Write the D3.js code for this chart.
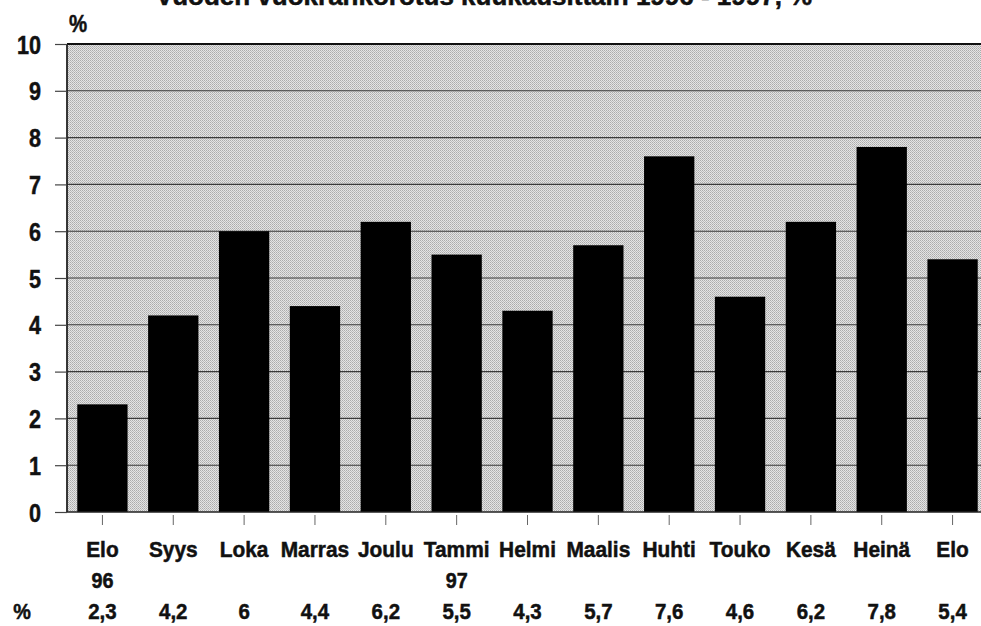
<!DOCTYPE html>
<html><head><meta charset="utf-8">
<script src="https://cdn.jsdelivr.net/npm/d3@7"></script>
<style>
html,body{margin:0;padding:0;background:#fff;}
svg{display:block;}
text{font-family:"Liberation Sans","Arial",sans-serif;font-weight:bold;fill:#111;stroke:#111;stroke-width:0.5px;}
</style></head>
<body><svg id="c" width="981" height="626"></svg>
<script>
const months = ["Elo","Syys","Loka","Marras","Joulu","Tammi","Helmi","Maalis","Huhti","Touko","Kesä","Heinä","Elo"];
const years  = ["96","","","","","97","","","","","","",""];
const values = [2.3,4.2,6,4.4,6.2,5.5,4.3,5.7,7.6,4.6,6.2,7.8,5.4];
const yTicks = [0,1,2,3,4,5,6,7,8,9,10];
const title = "Vuoden vuokrankorotus kuukausittain 1996 - 1997, %";

(function(){
const svg = d3.select("#c");
const pl = 67, pr = 988, pt = 44, pb = 512;

const x = d3.scaleBand().domain(d3.range(months.length)).range([pl, pr]).paddingInner(0.29).paddingOuter(0.145);
const y = d3.scaleLinear().domain([0,10]).range([pb, pt]);

function ctext(parent, tx, ty, str, size, sx, anchor){
  const g = parent.append("g").attr("transform",`translate(${tx},${ty}) scale(${sx},1)`);
  g.append("text").attr("text-anchor",anchor||"middle").style("font-size",size+"px").text(str);
  return g;
}

const defs = svg.append("defs");
const pat = defs.append("pattern").attr("id","stip").attr("width",2).attr("height",2).attr("patternUnits","userSpaceOnUse");
pat.append("rect").attr("width",2).attr("height",2).attr("fill","#e4e4e4");
pat.append("rect").attr("width",1).attr("height",1).attr("fill","#ababab");
pat.append("rect").attr("x",1).attr("y",1).attr("width",1).attr("height",1).attr("fill","#bcbcbc");

ctext(svg, 484, 5, title, 26, 1.0);

svg.append("rect").attr("x",pl).attr("y",pt).attr("width",pr-pl).attr("height",pb-pt).attr("fill","url(#stip)");

svg.append("g").selectAll("line").data(yTicks.filter(d=>d>0&&d<10)).join("line")
  .attr("x1",pl).attr("x2",pr).attr("y1",d=>y(d)).attr("y2",d=>y(d))
  .attr("stroke","#3a3a3a").attr("stroke-width",1.1);

svg.append("g").selectAll("rect").data(values).join("rect")
  .attr("x",(d,i)=>x(i)).attr("width",x.bandwidth())
  .attr("y",d=>y(d)).attr("height",d=>y(0)-y(d)).attr("fill","#000");

svg.append("line").attr("x1",pl).attr("x2",pr).attr("y1",y(10)).attr("y2",y(10)).attr("stroke","#111").attr("stroke-width",2.2);
svg.append("line").attr("x1",pl).attr("x2",pl).attr("y1",pt).attr("y2",pb).attr("stroke","#222").attr("stroke-width",1.8);
svg.append("line").attr("x1",pl).attr("x2",pr).attr("y1",pb).attr("y2",pb).attr("stroke","#222").attr("stroke-width",1.5);

const yAxis = d3.axisLeft(y).tickValues(yTicks).tickSize(12).tickFormat("");
const ga = svg.append("g").attr("transform",`translate(${pl},0)`).call(yAxis);
ga.select(".domain").remove();
ga.selectAll(".tick line").attr("stroke","#444").attr("stroke-width",1.2);
const fmt = d3.format("d");
yTicks.forEach(t=>ctext(svg, 41, y(t)+9.5, fmt(t), 26, 0.83, "end"));

ctext(svg, 78, 32, "%", 24, 0.85);

const xAxis = d3.axisBottom(x).tickSize(0).tickFormat("");
const gx = svg.append("g").attr("transform",`translate(0,${pb})`).call(xAxis);
gx.select(".domain").remove();
gx.selectAll(".tick").append("line").attr("y1",3).attr("y2",13).attr("stroke","#666").attr("stroke-width",1);

const lab = svg.append("g");
months.forEach((m,i)=>{
  const cx = x(i)+x.bandwidth()/2;
  ctext(lab, cx, 557, m, 22, 0.95);
  if (years[i]) ctext(lab, cx, 588, years[i], 22, 0.9);
  ctext(lab, cx, 619, String(values[i]).replace(".",","), 22, 0.93);
});
ctext(svg, 22, 619, "%", 22, 0.9);
})();
</script></body></html>
